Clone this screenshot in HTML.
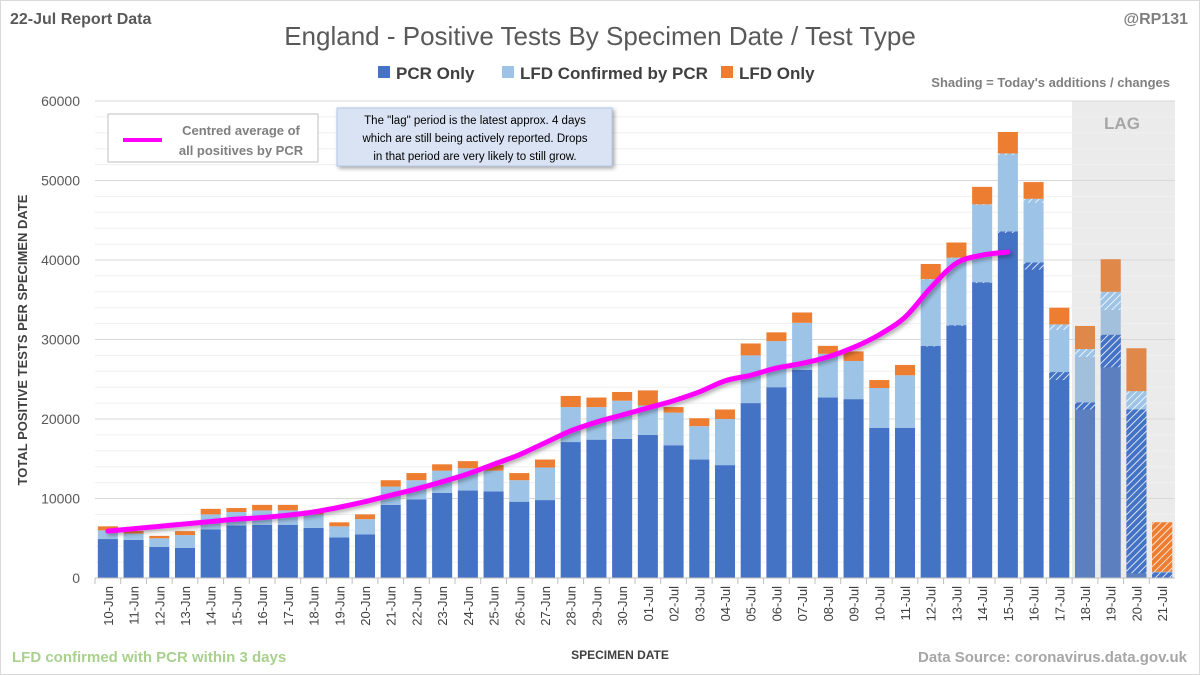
<!DOCTYPE html>
<html><head><meta charset="utf-8"><style>
body{margin:0;width:1200px;height:675px;background:#fff;font-family:"Liberation Sans",sans-serif;overflow:hidden}
svg{display:block}
</style></head><body>
<svg id="c" width="1200" height="675">
<defs>
<pattern id="hatch" width="5" height="5" patternUnits="userSpaceOnUse" patternTransform="rotate(45)"><rect width="5" height="5" fill="#4472c4"/><line x1="0" y1="0" x2="0" y2="5" stroke="#fff" stroke-width="1.6"/></pattern>
<pattern id="hatchL" width="5" height="5" patternUnits="userSpaceOnUse" patternTransform="rotate(45)"><rect width="5" height="5" fill="#9dc3e6"/><line x1="0" y1="0" x2="0" y2="5" stroke="#fff" stroke-width="1.6"/></pattern>
<pattern id="hatchO" width="5" height="5" patternUnits="userSpaceOnUse" patternTransform="rotate(45)"><rect width="5" height="5" fill="#ed7d31"/><line x1="0" y1="0" x2="0" y2="5" stroke="#fff" stroke-width="1.6"/></pattern>
<filter id="sh"><feDropShadow dx="2" dy="2" stdDeviation="2" flood-opacity="0.35"/></filter>
</defs>
<rect x="0.5" y="0.5" width="1199" height="674" fill="#fff" stroke="#d9d9d9"/>
<text x="10" y="24" font-size="16" font-weight="bold" fill="#595959">22-Jul Report Data</text>
<text x="1188" y="24" font-size="16" font-weight="bold" fill="#7f7f7f" text-anchor="end">@RP131</text>
<text x="600" y="45" font-size="26" fill="#595959" text-anchor="middle">England - Positive Tests By Specimen Date / Test Type</text>
<g font-size="17" font-weight="bold" fill="#404040">
<rect x="378" y="66" width="12" height="12" fill="#4472c4"/><text x="396" y="79">PCR Only</text>
<rect x="502" y="66" width="12" height="12" fill="#9dc3e6"/><text x="520" y="79">LFD Confirmed by PCR</text>
<rect x="721" y="66" width="12" height="12" fill="#ed7d31"/><text x="739" y="79">LFD Only</text>
</g>
<text x="1170" y="87" font-size="13" font-weight="bold" fill="#7f7f7f" text-anchor="end">Shading = Today's additions / changes</text>
<rect x="1072" y="101" width="103" height="477" fill="#ebebeb"/>
<text x="1122" y="129" font-size="17" font-weight="bold" fill="#a6a6a6" text-anchor="middle">LAG</text>
<g id="grid"></g><g id="bars"></g><g id="line"></g><g id="axes"></g>
<g>
<rect x="108" y="114" width="210" height="48" fill="#fff" stroke="#bfbfbf"/>
<line x1="123" y1="140" x2="162" y2="140" stroke="#ff00ff" stroke-width="4"/>
<text x="241" y="135" font-size="13" font-weight="bold" fill="#7f7f7f" text-anchor="middle">Centred average of</text>
<text x="241" y="155" font-size="13" font-weight="bold" fill="#7f7f7f" text-anchor="middle">all positives by PCR</text>
</g>
<g>
<rect x="337" y="108" width="275" height="58" fill="#dae3f3" stroke="#b4c7e7" filter="url(#sh)"/>
<text x="475" y="124" font-size="11.5" fill="#000" text-anchor="middle">The "lag" period is the latest approx. 4 days</text>
<text x="475" y="142" font-size="11.5" fill="#000" text-anchor="middle">which are still being actively reported.  Drops</text>
<text x="475" y="160" font-size="11.5" fill="#000" text-anchor="middle">in that period are very likely to still grow.</text>
</g>
<text transform="translate(27,340) rotate(-90)" font-size="13" font-weight="bold" fill="#404040" text-anchor="middle">TOTAL POSITIVE TESTS PER SPECIMEN DATE</text>
<text x="620" y="659" font-size="12" font-weight="bold" fill="#404040" text-anchor="middle">SPECIMEN DATE</text>
<text x="12" y="662" font-size="15" font-weight="bold" fill="#a9d18e">LFD confirmed with PCR within 3 days</text>
<text x="1187" y="662" font-size="15" font-weight="bold" fill="#a6a6a6" text-anchor="end">Data Source: coronavirus.data.gov.uk</text>
</svg>
<script>
const dates=["10-Jun","11-Jun","12-Jun","13-Jun","14-Jun","15-Jun","16-Jun","17-Jun","18-Jun","19-Jun","20-Jun","21-Jun","22-Jun","23-Jun","24-Jun","25-Jun","26-Jun","27-Jun","28-Jun","29-Jun","30-Jun","01-Jul","02-Jul","03-Jul","04-Jul","05-Jul","06-Jul","07-Jul","08-Jul","09-Jul","10-Jul","11-Jul","12-Jul","13-Jul","14-Jul","15-Jul","16-Jul","17-Jul","18-Jul","19-Jul","20-Jul","21-Jul"];
const pcrOnly=[4900,4800,3900,3800,6100,6600,6700,6700,6300,5100,5500,9200,9900,10700,11000,10900,9600,9800,17100,17400,17500,18000,16700,14900,14200,22000,24000,26200,22700,22500,18900,18900,29200,31800,37200,43600,39700,25900,22100,30600,21200,700];
const lfdConfirmed=[1100,800,1100,1600,1900,1700,1800,1800,1700,1400,1900,2300,2400,2800,2800,2600,2700,4100,4400,4100,4800,3700,4100,4200,5800,6000,5800,5900,5500,4800,5000,6600,8400,8500,9800,9800,8000,6000,6700,5400,2300,100];
const lfdOnly=[500,300,300,500,700,500,700,700,300,500,600,800,900,800,900,700,900,1000,1400,1200,1100,1900,700,1000,1200,1500,1100,1300,1000,1200,1000,1300,1900,1900,2200,2700,2100,2100,2900,4100,5400,6200];
const pcrNew=[0,0,0,0,0,0,0,0,0,0,0,0,0,0,0,0,0,0,0,0,0,0,0,0,0,0,0,0,0,0,0,0,100,100,100,200,900,1000,900,4100,20600,700];
const lfdNew=[0,0,0,0,0,0,0,0,0,0,0,0,0,0,0,0,0,0,0,0,0,0,0,0,0,0,0,0,0,0,0,0,100,100,100,200,500,700,1000,2300,2300,0];
const lfdOnlyNew=[0,0,0,0,0,0,0,0,0,0,0,0,0,0,0,0,0,0,0,0,0,0,0,0,0,0,0,0,0,0,0,0,0,0,0,0,0,0,0,0,0,6200];
const avgLine=[5900,6200,6500,6800,7100,7400,7600,7900,8300,8900,9600,10400,11200,12100,13100,14300,15500,17000,18500,19600,20500,21400,22300,23400,24800,25500,26400,27000,27800,29000,30600,32800,36500,39600,40600,41000];
const yTicks=[0,10000,20000,30000,40000,50000,60000];

const NS="http://www.w3.org/2000/svg";
const X0=95,X1=1175,Y0=578,Y1=101,YMAX=60000;
const step=(X1-X0)/dates.length;
const xc=i=>X0+step*(i+0.5);
const y=v=>Y0-(v/YMAX)*(Y0-Y1);
function mk(tag,attrs,parent){const e=document.createElementNS(NS,tag);for(const k in attrs)e.setAttribute(k,attrs[k]);parent.appendChild(e);return e;}
const grid=document.getElementById('grid'),bars=document.getElementById('bars'),axes=document.getElementById('axes'),lineG=document.getElementById('line');
for(let v=0;v<=YMAX;v+=2000){const g=mk('line',{x1:X0,x2:X1,y1:y(v),y2:y(v),stroke:v%10000===0?'#d9d9d9':'#f0f0f0','stroke-width':1},grid);

}
yTicks.forEach(v=>{const t=mk('text',{x:80,y:y(v)+5,'font-size':14,fill:'#595959','text-anchor':'end'},axes);t.textContent=v;

});
mk('line',{x1:X0,x2:X1,y1:Y0,y2:Y0,stroke:'#bfbfbf'},axes);
const bw=step*0.78;
dates.forEach((d,i)=>{
  const lag=i>=38;
  const g=mk('g',{},bars);
  
  
  const cx=xc(i),x=cx-bw/2;
  const segs=[[0,pcrOnly[i],pcrNew[i],lag?'#5b7fbf':'#4472c4','url(#hatch)'],[pcrOnly[i],lfdConfirmed[i],lfdNew[i],lag?'#a2bfdc':'#9dc3e6','url(#hatchL)'],[pcrOnly[i]+lfdConfirmed[i],lfdOnly[i],lfdOnlyNew[i],lag?'#e0874a':'#ed7d31','url(#hatchO)']];
  segs.forEach(([b,h,n,c,p])=>{
    if(h<=0)return;
    mk('rect',{x:x,width:bw,y:y(b+h),height:y(b)-y(b+h),fill:c},g);
    if(n>0){const nn=Math.min(n,h);mk('rect',{x:x,width:bw,y:y(b+h),height:y(b+h-nn)-y(b+h),fill:p},g);}
  });
  mk('line',{x1:X0+step*i,x2:X0+step*i,y1:Y0,y2:Y0+6,stroke:'#bfbfbf'},axes);
  const t=mk('text',{transform:`translate(${cx+5},${Y0+8}) rotate(-90)`,'font-size':13,fill:'#404040','text-anchor':'end'},axes);
  t.textContent=d;
  
  
});
const pts=avgLine.map((v,i)=>[xc(i),y(v)]);
let dstr=`M${pts[0][0]},${pts[0][1]}`;
for(let i=0;i<pts.length-1;i++){const p0=pts[Math.max(0,i-1)],p1=pts[i],p2=pts[i+1],p3=pts[Math.min(pts.length-1,i+2)];
dstr+=` C${p1[0]+(p2[0]-p0[0])/6},${p1[1]+(p2[1]-p0[1])/6} ${p2[0]-(p3[0]-p1[0])/6},${p2[1]-(p3[1]-p1[1])/6} ${p2[0]},${p2[1]}`;}
const ln=mk('path',{d:dstr,fill:'none',stroke:'#ff00ff','stroke-width':5,'stroke-linecap':'round',filter:'url(#sh)'},lineG);


</script>
</body></html>
